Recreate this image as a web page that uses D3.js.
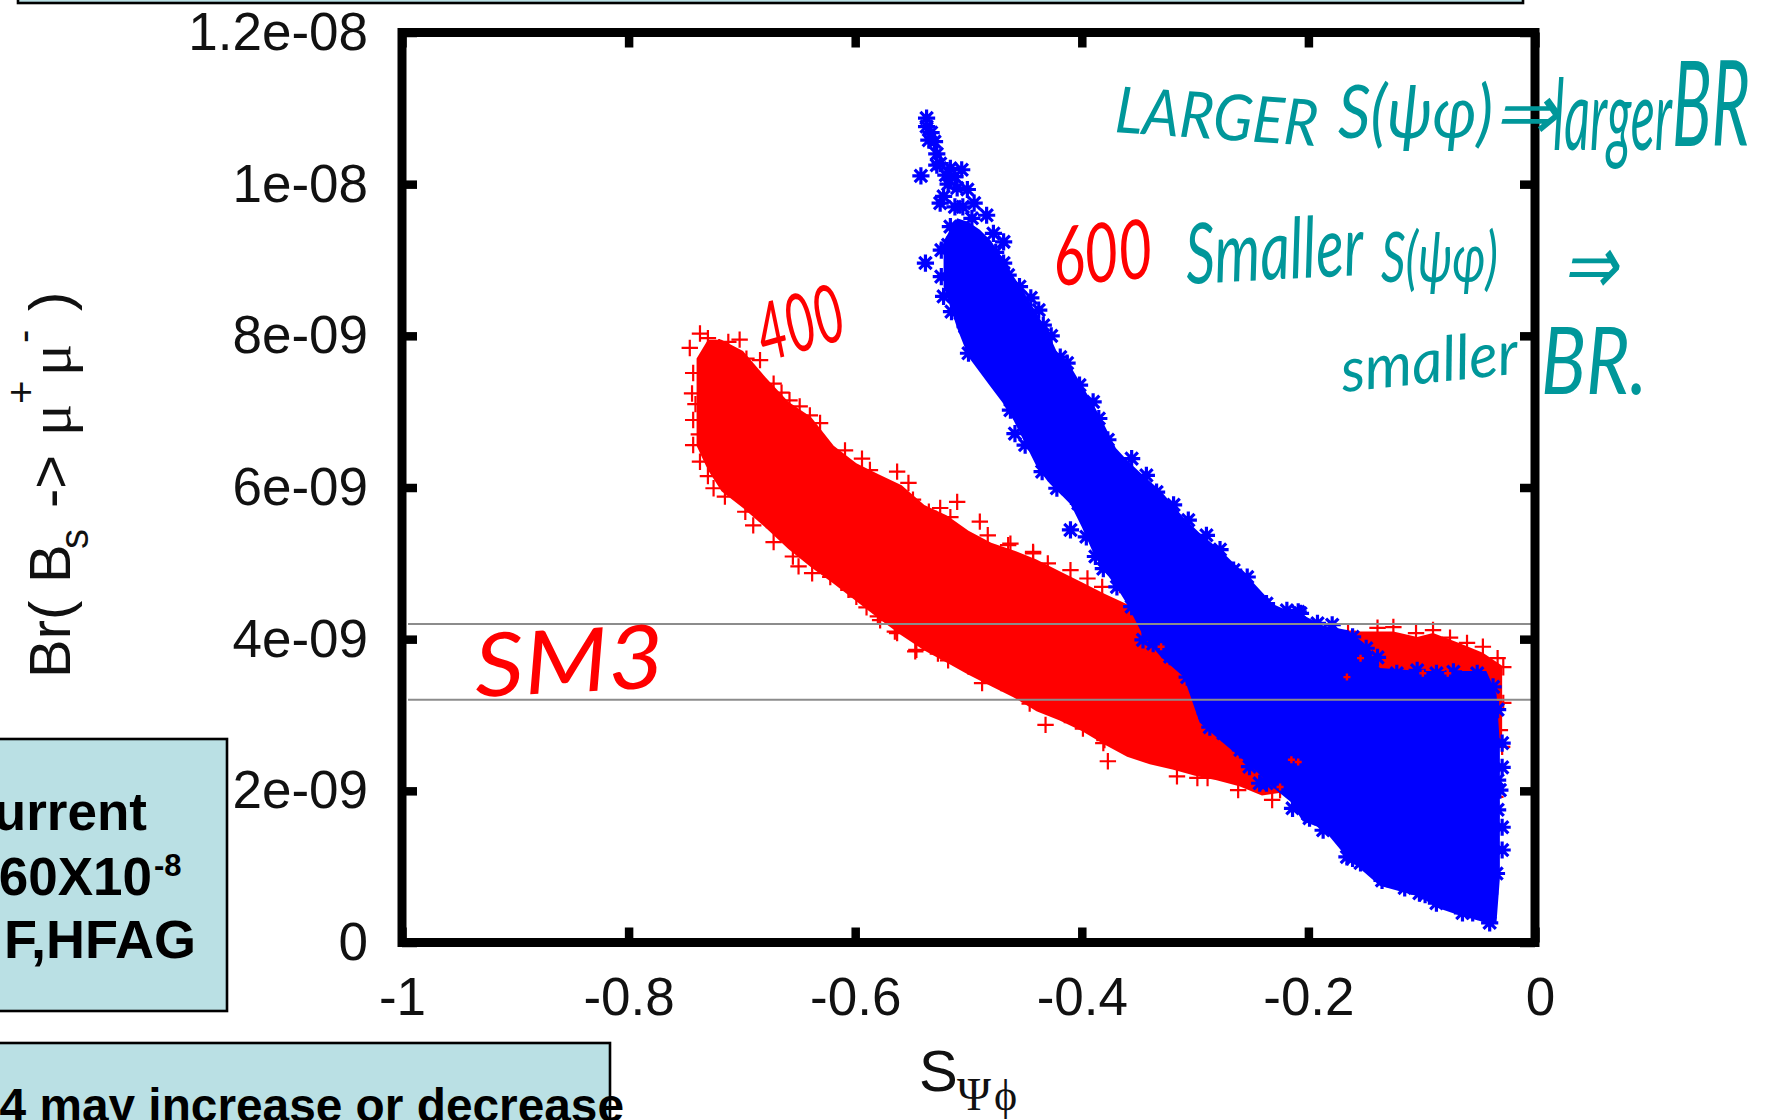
<!DOCTYPE html>
<html><head><meta charset="utf-8">
<script src="https://d3js.org/d3.v7.min.js"></script>
<style>
html,body{margin:0;padding:0;background:#fff;overflow:hidden}
svg{display:block}
text{font-family:"Liberation Sans",Arial,sans-serif}
.tk text{font-size:53px;fill:#111}
</style></head><body>
<svg id="c" width="1767" height="1120"></svg>
<script>
// ---- axis labels
const xTicks=[-1,-0.8,-0.6,-0.4,-0.2,0];
const xTickLabels=["-1","-0.8","-0.6","-0.4","-0.2","0"];
const yTicks=[0,2,4,6,8,10,12];           // in units of 1e-9
const yTickLabels=["0","2e-09","4e-09","6e-09","8e-09","1e-08","1.2e-08"];
const smBand=[3.2,4.2];

// ---- m = 400 (red): solid core of the cloud, bounds
const redBandX=[-0.740,-0.730,-0.718,-0.699,-0.679,-0.659,-0.639,-0.619,-0.599,-0.579,-0.559,-0.539,-0.519,-0.500,-0.480,-0.460,-0.440,-0.420,-0.400,-0.380,-0.360,-0.340,-0.320,-0.300,-0.281,-0.261,-0.241,-0.221,-0.201,-0.169,-0.125,-0.104,-0.090,-0.067,-0.046,-0.029];
const redBandHi=[7.70,7.95,7.95,7.80,7.45,7.13,6.93,6.55,6.32,6.17,6.03,5.77,5.63,5.43,5.27,5.17,5.05,4.90,4.75,4.60,4.46,4.38,4.30,4.26,4.23,4.20,4.20,4.18,4.16,4.10,4.10,4.03,4.08,3.95,3.82,3.65];
const redBandLo=[6.55,6.23,5.95,5.73,5.47,5.19,4.95,4.73,4.50,4.27,4.05,3.85,3.69,3.53,3.38,3.23,3.05,2.93,2.79,2.61,2.45,2.35,2.28,2.20,2.14,2.06,1.94,1.98,2.2,2.6,2.6,2.6,2.6,2.6,2.6,2.6];
// individually visible red points, region by region
const redTopLeft=[[-0.737,8.03],[-0.746,7.84],[-0.730,7.97],[-0.712,7.92],[-0.702,7.95],[-0.696,7.70],[-0.684,7.68],[-0.743,7.51],[-0.744,7.24],[-0.743,6.89],[-0.743,6.56],[-0.737,6.34],[-0.725,5.99],[-0.697,5.68],[-0.678,5.57],[-0.672,7.37],[-0.658,7.15],[-0.649,7.07],[-0.631,6.85],[-0.655,5.09],[-0.660,5.48],[-0.741,7.10],[-0.738,6.70],[-0.730,6.15],[-0.715,5.88],[-0.690,5.50],[-0.672,5.28],[-0.720,7.85],[-0.665,7.25],[-0.640,6.95]];
const redUpper=[[-0.609,6.49],[-0.594,6.38],[-0.587,6.23],[-0.563,6.21],[-0.553,6.06],[-0.549,5.84],[-0.535,5.68],[-0.525,5.73],[-0.516,5.61],[-0.510,5.81],[-0.490,5.55],[-0.483,5.37],[-0.465,5.24],[-0.443,5.15],[-0.410,4.91],[-0.382,4.69],[-0.463,5.26],[-0.443,5.13],[-0.430,5.00],[-0.395,4.80],[-0.360,4.62]];
const redLower=[[-0.638,4.87],[-0.622,4.82],[-0.606,4.65],[-0.599,4.56],[-0.580,4.30],[-0.578,4.25],[-0.565,4.10],[-0.563,4.08],[-0.547,3.84],[-0.546,3.86],[-0.541,4.03],[-0.527,3.81],[-0.500,3.64],[-0.488,3.42],[-0.471,3.42],[-0.453,3.31],[-0.446,3.15],[-0.432,2.87],[-0.399,2.82],[-0.381,2.63],[-0.377,2.39],[-0.377,2.82],[-0.380,2.67],[-0.357,2.58],[-0.347,2.54],[-0.334,2.54],[-0.322,2.41],[-0.316,2.19],[-0.298,2.17],[-0.289,2.17],[-0.296,2.41],[-0.262,2.01],[-0.232,1.88],[-0.225,2.01],[-0.650,4.96],[-0.590,4.42],[-0.518,3.72],[-0.415,3.00],[-0.360,2.65]];
const redRight=[[-0.165,4.10],[-0.139,4.15],[-0.125,4.16],[-0.105,4.08],[-0.090,4.12],[-0.075,4.02],[-0.060,3.95],[-0.046,3.90],[-0.033,3.75],[-0.028,3.63],[-0.028,3.16],[-0.031,2.80],[-0.029,2.58],[-0.035,1.92]];
// red fragments seen through gaps of the blue cloud
const redPeek=[[-0.215,2.41],[-0.209,2.38],[-0.166,3.50],[-0.154,3.75],[-0.077,3.55],[-0.099,3.55],[-0.225,2.05],[-0.330,3.90]];

// ---- m = 600 (blue): solid core
const blueBandX=[-0.522,-0.510,-0.500,-0.490,-0.480,-0.470,-0.460,-0.450,-0.440,-0.430,-0.420,-0.410,-0.400,-0.390,-0.380,-0.370,-0.360,-0.346,-0.330,-0.310,-0.296,-0.276,-0.252,-0.231,-0.216,-0.205,-0.187,-0.166,-0.151,-0.137,-0.101,-0.087,-0.067,-0.043,-0.034,-0.031];
const blueBandHi=[9.25,9.55,9.50,9.40,9.25,9.02,8.78,8.55,8.30,8.05,7.72,7.60,7.35,7.10,6.82,6.52,6.36,6.16,5.95,5.60,5.40,5.15,4.80,4.46,4.36,4.32,4.18,4.12,3.95,3.62,3.58,3.58,3.58,3.58,3.28,2.62];
const blueBandLo=[8.65,8.10,7.72,7.52,7.32,7.12,6.88,6.58,6.28,6.08,5.93,5.78,5.48,5.14,4.90,4.70,4.46,4.05,3.76,3.50,2.90,2.64,2.34,2.04,1.86,1.60,1.50,1.12,0.93,0.75,0.60,0.46,0.36,0.26,0.26,0.85];
// individually visible blue points, region by region
const blueTop=[[-0.537,10.87],[-0.537,10.76],[-0.530,10.56],[-0.535,10.58],[-0.525,10.27],[-0.506,10.19],[-0.516,10.21],[-0.542,10.11],[-0.522,9.84],[-0.525,9.75],[-0.501,9.93],[-0.484,9.59],[-0.516,9.44],[-0.469,9.24],[-0.524,9.13],[-0.538,8.96],[-0.469,8.96],[-0.524,8.78],[-0.455,8.65],[-0.522,8.52],[-0.515,8.32],[-0.438,8.34],[-0.434,8.14],[-0.503,8.12],[-0.500,7.77],[-0.419,7.72],[-0.528,10.40],[-0.518,10.00],[-0.512,9.70],[-0.495,9.75],[-0.510,9.95],[-0.505,9.70],[-0.497,9.55],[-0.478,9.35],[-0.476,9.10],[-0.465,8.80],[-0.445,8.50],[-0.518,9.20],[-0.512,8.95],[-0.507,8.30],[-0.495,7.85],[-0.485,7.65],[-0.533,10.68],[-0.528,10.25],[-0.520,10.12],[-0.512,10.10],[-0.427,8.00]];
const blueUpper=[[-0.413,7.64],[-0.402,7.35],[-0.390,7.13],[-0.385,6.91],[-0.377,6.63],[-0.356,6.38],[-0.343,6.16],[-0.334,5.94],[-0.319,5.77],[-0.306,5.57],[-0.290,5.37],[-0.278,5.18],[-0.266,4.91],[-0.254,4.82],[-0.240,4.45],[-0.209,4.36],[-0.237,4.47],[-0.219,4.38],[-0.207,4.34],[-0.192,4.21],[-0.179,4.19],[-0.161,4.03],[-0.149,3.88],[-0.139,3.76],[-0.122,3.55],[-0.104,3.59],[-0.087,3.55],[-0.072,3.57],[-0.051,3.55],[-0.037,3.37]];
const blueLower=[[-0.463,7.02],[-0.459,6.71],[-0.450,6.56],[-0.435,6.21],[-0.422,5.99],[-0.403,5.79],[-0.410,5.44],[-0.396,5.35],[-0.388,5.09],[-0.381,4.93],[-0.369,4.69],[-0.356,4.43],[-0.346,3.99],[-0.337,3.94],[-0.322,3.77],[-0.307,3.50],[-0.291,3.02],[-0.287,2.84],[-0.275,2.76],[-0.260,2.54],[-0.252,2.32],[-0.243,2.10],[-0.237,2.10],[-0.214,1.77],[-0.199,1.64],[-0.187,1.48],[-0.166,1.13],[-0.161,1.11],[-0.154,1.05]];
const blueBottom=[[-0.135,0.82],[-0.115,0.72],[-0.102,0.65],[-0.097,0.63],[-0.087,0.52],[-0.072,0.56],[-0.064,0.39],[-0.060,0.47],[-0.055,0.39],[-0.046,0.60],[-0.040,0.65],[-0.040,0.26],[-0.034,0.91],[-0.029,1.22],[-0.029,1.52],[-0.033,1.75],[-0.031,2.01],[-0.033,2.14],[-0.029,2.31],[-0.029,2.63],[-0.033,3.07]];

// ---- layout
const L=402,R=1535,T=32.5,B=942.5;
const svg=d3.select("#c");
const x=d3.scaleLinear().domain([-1,0]).range([L,R]);
const y=d3.scaleLinear().domain([0,12]).range([B,T]);

// slide boxes behind the plot
const BOX="#bae0e4";
[[18,-10,1505,13],[-6,739,233,272],[-6,1043,616,100]].forEach(b=>svg.append("rect")
  .attr("x",b[0]).attr("y",b[1]).attr("width",b[2]).attr("height",b[3])
  .attr("fill",BOX).attr("stroke","#000").attr("stroke-width",2.6));
const bold=(s,xx,yy,fs,anchor)=>svg.append("text").attr("x",xx).attr("y",yy).attr("font-size",fs)
  .attr("font-weight",700).attr("text-anchor",anchor||"start").attr("fill","#000").text(s);
bold("urrent",147,830,53,"end");
bold("60X10",152,895,53,"end");
bold("-8",154,876,31);
bold("F,HFAG",196,958,54,"end");
bold("4 may increase or decrease",624,1122,47.8,"end");

// marker glyphs
const glyph=(fn)=>{const p=d3.path();fn(p);return p.toString();};
const plusAt=r=>glyph(p=>{p.moveTo(-r,0);p.lineTo(r,0);p.moveTo(0,-r);p.lineTo(0,r);});
const starAt=(r,q)=>glyph(p=>{p.moveTo(-r,0);p.lineTo(r,0);p.moveTo(0,-r);p.lineTo(0,r);p.moveTo(-q,-q);p.lineTo(q,q);p.moveTo(-q,q);p.lineTo(q,-q);});
const area=d3.area().x(d=>x(d[0])).y0(d=>y(d[1])).y1(d=>y(d[2]));
const marks=(pts,col,d,w)=>svg.append("g").selectAll("path").data(pts).join("path")
  .attr("d",d).attr("transform",p=>`translate(${x(p[0])},${y(p[1])})`)
  .attr("fill","none").attr("stroke",col).attr("stroke-width",w);

// red series
svg.append("path").datum(redBandX.map((v,i)=>[v,redBandHi[i],redBandLo[i]])).attr("d",area).attr("fill","#f00");
marks(redTopLeft.concat(redUpper,redLower,redRight),"#f00",plusAt(8.2),2.2);
// blue series
svg.append("path").datum(blueBandX.map((v,i)=>[v,blueBandHi[i],blueBandLo[i]])).attr("d",area).attr("fill","#00f");
marks(blueTop.concat(blueUpper,blueLower,blueBottom),"#00f",starAt(8.6,6.2),3.2);
marks(redPeek,"#f00",plusAt(3.5),2.4);

// SM band lines
svg.append("g").selectAll("line").data(smBand).join("line")
  .attr("x1",L+6).attr("x2",R-4).attr("y1",d=>y(d)).attr("y2",d=>y(d))
  .attr("stroke","#8c8c8c").attr("stroke-width",2);

// frame and axes
svg.append("rect").attr("x",L).attr("y",T).attr("width",R-L).attr("height",B-T)
  .attr("fill","none").attr("stroke","#000").attr("stroke-width",9);
const style=g=>{g.select(".domain").remove();g.attr("class","tk").selectAll("line").attr("stroke","#000").attr("stroke-width",8.5);};
svg.append("g").attr("transform",`translate(${L},0)`).call(d3.axisLeft(y).tickValues(yTicks).tickFormat((d,i)=>yTickLabels[i]).tickSize(-15).tickPadding(34)).call(style);
svg.append("g").attr("transform",`translate(${R},0)`).call(d3.axisRight(y).tickValues(yTicks).tickFormat("").tickSize(-15)).call(style);
svg.append("g").attr("transform",`translate(0,${B})`).call(d3.axisBottom(x).tickValues(xTicks).tickFormat((d,i)=>xTickLabels[i]).tickSize(-15).tickPadding(35)).call(style)
  .selectAll("text").filter(d=>d===0).attr("dx",5);
svg.append("g").attr("transform",`translate(0,${T})`).call(d3.axisTop(x).tickValues(xTicks).tickFormat("").tickSize(-15)).call(style);

// x-axis title
svg.append("text").attr("x",919).attr("y",1091).attr("font-size",58).attr("fill","#111").text("S");
svg.append("text").attr("x",957).attr("y",1110).attr("font-size",46).attr("fill","#111").style("font-family","Liberation Serif").text("Ψ");
svg.append("text").attr("x",994).attr("y",1110).attr("font-size",44).attr("fill","#111").style("font-family","Liberation Serif").text("ϕ");

// y-axis title
const yl=(s,bx,by,fs,fam)=>svg.append("text").attr("transform",`translate(${bx},${by}) rotate(-90)`)
  .attr("font-size",fs).attr("fill","#111").style("font-family",fam||"Liberation Sans").text(s);
yl("Br(",70,678,58);
yl("B",70,583,58);
yl("s",88,549,40);
yl("->",70,508,58);
yl("μ",70,436,60,"Liberation Serif");
yl("+",35,404,40);
yl("μ",70,376,60,"Liberation Serif");
yl("-",37,343,40);
yl(")",70,311,58);

// handwritten notes
const TEAL="#00979a",RED="#f00";
const notes=[
 ["LARGER",1114,132,64,203,4,TEAL],
 ["S(ψφ)",1338,138,74,155,0,TEAL],
 ["⇒",1493,140,80,65,0,TEAL],
 ["larger",1553,150,100,119,0,TEAL],
 ["BR",1672,146,118,78,0,TEAL],
 ["Smaller",1187,284,84,178,-3,TEAL],
 ["S(ψφ)",1381,282,70,117,0,TEAL],
 ["⇒",1562,294,84,55,0,TEAL],
 ["smaller",1343,392,62,178,-6,TEAL],
 ["BR.",1541,394,94,106,0,TEAL],
 ["600",1055,286,82,100,-5,RED],
 ["400",765,362,80,88,-16,RED],
 ["SM3",476,697,88,190,-3,RED]
];
svg.append("g").selectAll("text").data(notes).join("text")
  .attr("font-size",d=>d[3]).attr("fill",d=>d[6])
  .style("font-family","Lato").style("font-style","italic").text(d=>d[0])
  .attr("transform",function(d){const k=d[4]/this.getComputedTextLength();return `translate(${d[1]},${d[2]}) rotate(${d[5]}) scale(${k},1)`;});
</script>
</body></html>
